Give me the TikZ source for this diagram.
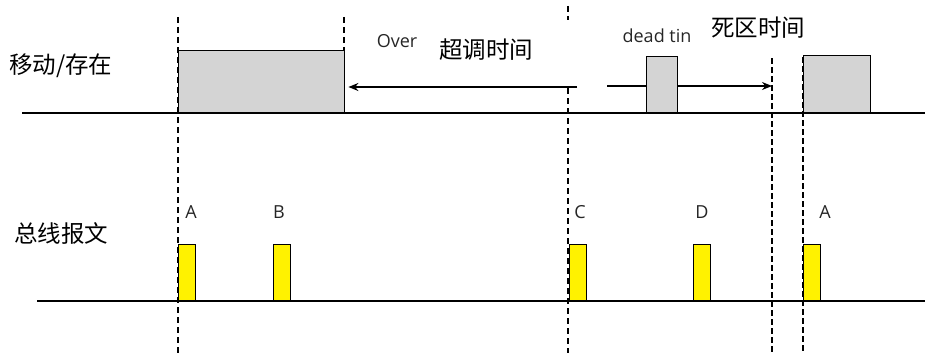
\documentclass[tikz,border=0pt]{standalone}
\usepackage{fontspec}
\setmainfont{Open Sans}
\newfontfamily\cjk{Noto Sans CJK SC}
\usetikzlibrary{arrows.meta}
\begin{document}
\begin{tikzpicture}[x=1pt,y=-1pt,
  base/.style={line width=1.4pt},
  vdash/.style={line width=1.2pt, dash pattern=on 6pt off 4pt},
  vdashb/.style={line width=2pt, dash pattern=on 6pt off 3pt},
  graybox/.style={draw, fill=black!17, line width=1.4pt, inner sep=0pt, anchor=south west},
  pulse/.style={draw, fill=yellow, line width=1.3pt, inner sep=0pt, anchor=south west, minimum width=17pt, minimum height=56pt},
  cjklab/.style={font=\cjk\fontsize{23.5}{23.5}\selectfont, inner sep=0pt},
  letter/.style={font=\fontsize{18}{18}\selectfont, inner sep=0pt, text=black!85},
  tip/.style={-{Stealth[length=10pt,width=8pt]}, line width=1.4pt}]
\useasboundingbox (0,0) rectangle (925,353);
\fill[white] (0,0) rectangle (925,353);
% baselines
\coordinate (t0) at (22,113);
\coordinate (t1) at (925,113);
\coordinate (b0) at (37,301);
\coordinate (b1) at (925,301);
\draw[base] (t0) -- (t1);
\draw[base] (b0) -- (b1);
% dashed guides
\draw[vdash] (178,17) -- (178,353);
\draw[vdash] (344,17) -- (344,51);
\draw[vdash] (568,6) -- (568,20);
\draw[vdash] (568,88) -- (568,353);
\draw[vdashb] (772,58) -- (772,353);
\draw[vdashb] (803,57) -- (803,353);
% gray box 1
\node[graybox, minimum width=166pt, minimum height=62pt] (m1) at (178,113) {};
% arrows
\coordinate (o1) at (577,87);
\draw[tip] (o1) -- ([xshift=3pt]o1 -| m1.east);
\coordinate (d0) at (607,86);
\coordinate (d1) at (772,86);
\draw[tip] (d0) -- (d1);
% gray boxes 2, 3
\node[graybox, minimum width=31pt, minimum height=56pt] (m2) at (646,113) {};
\node[graybox, minimum width=67pt, minimum height=57pt] (m3) at (803,113) {};
% pulses
\node[pulse] (pa) at (178,301) {};
\node[pulse] (pb) at (273,301) {};
\node[pulse] (pc) at (569,301) {};
\node[pulse] (pd) at (693,301) {};
\node[pulse] (pa2) at (803,301) {};
% letters
\node[letter] (la) at (191,212) {A};
\node[letter] (lb) at (279,212) {B};
\node[letter] (lc) at (580,212) {C};
\node[letter] (ld) at (702,212) {D};
\node[letter] (la2) at (825,212) {A};
% labels
\node[cjklab, anchor=west] (mv) at (9,66) {移动/存在};
\node[cjklab, anchor=west] (bus) at (14,234) {总线报文};
\node[cjklab] (ov) at (486,50) {超调时间};
\node[cjklab] (dz) at (758,28) {死区时间};
\node[letter] (ovl) at (397,41) {Over};
\node[letter] (dtl) at (657,36) {dead tin};
\end{tikzpicture}
\end{document}
